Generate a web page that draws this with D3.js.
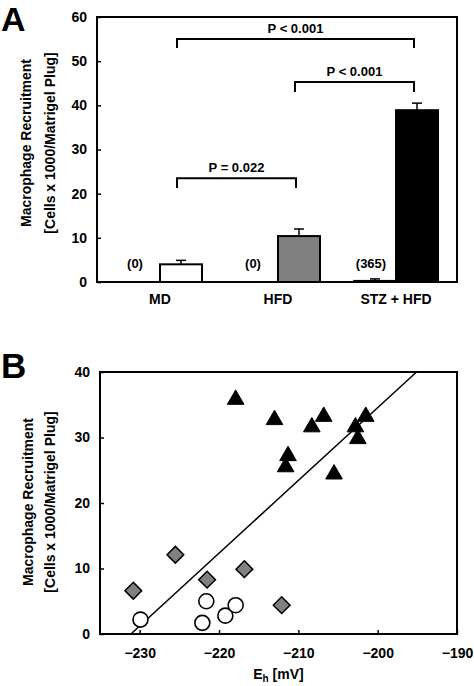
<!DOCTYPE html>
<html>
<head>
<meta charset="utf-8">
<script src="https://cdn.jsdelivr.net/npm/d3@7"></script>
<style>
  html, body { margin: 0; padding: 0; background: #fff; }
  svg { display: block; font-family: "Liberation Sans", Arial, sans-serif; font-weight: bold; }
</style>
</head>
<body>
<svg id="chart" width="474" height="686"></svg>
<script>
// ---------- Panel A data ----------
const groups = ["MD", "HFD", "STZ + HFD"];
const controlValues = [0, 0, 0.3];
const controlErrors = [0, 0, 0.4];
const controlLabels = ["(0)", "(0)", "(365)"];
const treatedValues = [4.0, 10.4, 38.9];
const treatedErrors = [0.9, 1.6, 1.6];
const barColors = ["#ffffff", "#808080", "#000000"];
const yTicksA = [0, 10, 20, 30, 40, 50, 60];
const bracketFrom = ["MD", "HFD", "MD"];
const bracketTo = ["STZ + HFD", "STZ + HFD", "HFD"];
const bracketLevel = [55, 45.3, 23.5];
const bracketLegEnd = [53, 43, 21.3];
const bracketLabels = ["P < 0.001", "P < 0.001", "P = 0.022"];

// ---------- Panel B data ----------
const triX = [-217.9, -213.0, -206.8, -208.3, -201.5, -202.8, -202.5, -211.3, -211.6, -205.5];
const triY = [35.8, 32.7, 33.2, 31.6, 33.2, 31.6, 29.8, 27.2, 25.5, 24.4];
const diaX = [-230.8, -225.5, -221.5, -216.8, -212.1];
const diaY = [6.6, 12.1, 8.3, 9.9, 4.4];
const cirX = [-229.9, -221.6, -222.1, -219.2, -217.9];
const cirY = [2.2, 5.0, 1.7, 2.8, 4.4];
const fitX = [-231.1, -195.1];
const fitY = [0, 40];
const xTicksB = [-230, -220, -210, -200, -190];
const yTicksB = [0, 10, 20, 30, 40];

const svg = d3.select("#chart");
const FS = 14;

// ================= Panel A =================
const A = { left: 97, right: 457, top: 17, bottom: 282 };
const xA = d3.scaleBand().domain(groups).range([101, 455]).padding(0);
const sub = d3.scaleBand().domain(["ctrl", "trt"]).range([-42, 42]).padding(0);
const yA = d3.scaleLinear().domain([0, 60]).range([A.bottom, A.top]);
const cx = g => xA(g) + xA.bandwidth() / 2;

const gA = svg.append("g");

const axA = d3.axisLeft(yA).tickValues(yTicksA).tickSize(-4).tickPadding(10);
const axAg = gA.append("g").attr("transform", `translate(${A.left},0)`).call(axA);
axAg.select(".domain").remove();
axAg.selectAll("line").attr("stroke", "#000").attr("stroke-width", 1.5);
axAg.selectAll("text").attr("font-size", FS).attr("font-weight", "bold").attr("fill", "#000")
  .attr("font-family", "Liberation Sans, Arial, sans-serif");

gA.selectAll("text.cat").data(groups).join("text")
  .attr("class", "cat")
  .attr("x", d => cx(d)).attr("y", 304)
  .attr("text-anchor", "middle").attr("font-size", FS).text(d => d);

const ctrlData = groups.map((g, i) => ({ g, v: controlValues[i], e: controlErrors[i], lab: controlLabels[i] }));
const trtData = groups.map((g, i) => ({ g, v: treatedValues[i], e: treatedErrors[i], c: barColors[i] }));

gA.selectAll("rect.ctrl").data(ctrlData.filter(d => d.v > 0)).join("rect")
  .attr("x", d => cx(d.g) + sub("ctrl")).attr("width", sub.bandwidth())
  .attr("y", d => yA(d.v)).attr("height", d => yA(0) - yA(d.v))
  .attr("fill", "#fff").attr("stroke", "#000").attr("stroke-width", 1.5);

gA.selectAll("text.ctrlLab").data(ctrlData).join("text")
  .attr("x", d => cx(d.g) + sub("ctrl") + sub.bandwidth() / 2 - 4)
  .attr("y", d => yA(0) - 14)
  .attr("text-anchor", "middle").attr("font-size", 13).text(d => d.lab);

function errBar(sel, data, key) {
  const g = sel.selectAll(null).data(data.filter(d => d.e > 0)).join("g");
  g.append("line")
    .attr("x1", d => cx(d.g) + sub(key) + sub.bandwidth() / 2)
    .attr("x2", d => cx(d.g) + sub(key) + sub.bandwidth() / 2)
    .attr("y1", d => yA(d.v)).attr("y2", d => yA(d.v + d.e))
    .attr("stroke", "#000").attr("stroke-width", 1.5);
  g.append("line")
    .attr("x1", d => cx(d.g) + sub(key) + sub.bandwidth() / 2 - 5)
    .attr("x2", d => cx(d.g) + sub(key) + sub.bandwidth() / 2 + 5)
    .attr("y1", d => yA(d.v + d.e)).attr("y2", d => yA(d.v + d.e))
    .attr("stroke", "#000").attr("stroke-width", 1.5);
}
errBar(gA, ctrlData, "ctrl");
errBar(gA, trtData, "trt");

gA.selectAll("rect.trt").data(trtData).join("rect")
  .attr("x", d => cx(d.g) + sub("trt")).attr("width", sub.bandwidth())
  .attr("y", d => yA(d.v)).attr("height", d => yA(0) - yA(d.v))
  .attr("fill", d => d.c).attr("stroke", "#000").attr("stroke-width", 2);

const brData = bracketLabels.map((l, i) => ({
  x1: cx(bracketFrom[i]) + sub("trt") + sub.bandwidth() / 2 - 4,
  x2: cx(bracketTo[i]) + sub("trt") + sub.bandwidth() / 2 - 3,
  y: bracketLevel[i], leg: bracketLegEnd[i], label: l
}));
gA.selectAll("path.br").data(brData).join("path")
  .attr("d", d => `M${d.x1},${yA(d.leg)}V${yA(d.y)}H${d.x2}V${yA(d.leg)}`)
  .attr("fill", "none").attr("stroke", "#000").attr("stroke-width", 2);
gA.selectAll("text.br").data(brData).join("text")
  .attr("x", d => (d.x1 + d.x2) / 2).attr("y", d => yA(d.y) - 6)
  .attr("text-anchor", "middle").attr("font-size", 13).text(d => d.label);

gA.append("rect").attr("x", A.left).attr("y", A.top)
  .attr("width", A.right - A.left).attr("height", A.bottom - A.top)
  .attr("fill", "none").attr("stroke", "#000").attr("stroke-width", 2);

const tA = gA.append("text").attr("transform", `translate(26,143) rotate(-90)`)
  .attr("text-anchor", "middle").attr("font-size", FS);
tA.append("tspan").attr("x", 0).attr("dy", "0.35em").text("Macrophage Recruitment");
tA.append("tspan").attr("x", 0).attr("dy", 24).text("[Cells x 1000/Matrigel Plug]");

svg.append("text").attr("x", 1).attr("y", 31).attr("font-size", 34).text("A");

// ================= Panel B =================
const B = { left: 100, right: 457, top: 372, bottom: 634 };
const xB = d3.scaleLinear().domain([-235, -190]).range([B.left, B.right]);
const yB = d3.scaleLinear().domain([0, 40]).range([B.bottom, B.top]);
const gB = svg.append("g");

const axBy = gB.append("g").attr("transform", `translate(${B.left},0)`)
  .call(d3.axisLeft(yB).tickValues(yTicksB).tickSize(-4).tickPadding(10));
const axBx = gB.append("g").attr("transform", `translate(0,${B.bottom})`)
  .call(d3.axisBottom(xB).tickValues(xTicksB).tickSize(-4).tickPadding(14));
[axBy, axBx].forEach(a => {
  a.select(".domain").remove();
  a.selectAll("line").attr("stroke", "#000").attr("stroke-width", 1.5);
  a.selectAll("text").attr("font-size", FS).attr("font-weight", "bold").attr("fill", "#000")
    .attr("font-family", "Liberation Sans, Arial, sans-serif");
});

gB.append("line")
  .attr("x1", xB(fitX[0])).attr("y1", yB(fitY[0]))
  .attr("x2", xB(fitX[1])).attr("y2", yB(fitY[1]))
  .attr("stroke", "#000").attr("stroke-width", 1.5);

gB.selectAll("circle.pt").data(cirX.map((x, i) => [x, cirY[i]])).join("circle")
  .attr("cx", d => xB(d[0])).attr("cy", d => yB(d[1])).attr("r", 7.5)
  .attr("fill", "#fff").attr("stroke", "#000").attr("stroke-width", 1.6);

const sq = d3.symbol().type(d3.symbolSquare).size(140);
gB.selectAll("path.dia").data(diaX.map((x, i) => [x, diaY[i]])).join("path")
  .attr("d", sq)
  .attr("transform", d => `translate(${xB(d[0])},${yB(d[1])}) rotate(45)`)
  .attr("fill", "#808080").attr("stroke", "#000").attr("stroke-width", 1.5);

const tri = d3.symbol().type(d3.symbolTriangle).size(120);
gB.selectAll("path.tri").data(triX.map((x, i) => [x, triY[i]])).join("path")
  .attr("d", tri)
  .attr("transform", d => `translate(${xB(d[0])},${yB(d[1])})`)
  .attr("fill", "#000").attr("stroke", "#000").attr("stroke-width", 1);

gB.append("rect").attr("x", B.left).attr("y", B.top)
  .attr("width", B.right - B.left).attr("height", B.bottom - B.top)
  .attr("fill", "none").attr("stroke", "#000").attr("stroke-width", 2);

const xt = gB.append("text").attr("x", (B.left + B.right) / 2).attr("y", 679)
  .attr("text-anchor", "middle").attr("font-size", FS);
xt.append("tspan").text("E");
xt.append("tspan").attr("font-size", 10).attr("dy", 3).text("h");
xt.append("tspan").attr("dy", -3).text(" [mV]");

const tB = gB.append("text").attr("transform", `translate(28,502) rotate(-90)`)
  .attr("text-anchor", "middle").attr("font-size", FS);
tB.append("tspan").attr("x", 0).attr("dy", "0.35em").text("Macrophage Recruitment");
tB.append("tspan").attr("x", 0).attr("dy", 22).text("[Cells x 1000/Matrigel Plug]");

svg.append("text").attr("x", 1).attr("y", 378).attr("font-size", 35).text("B");
</script>
</body>
</html>
